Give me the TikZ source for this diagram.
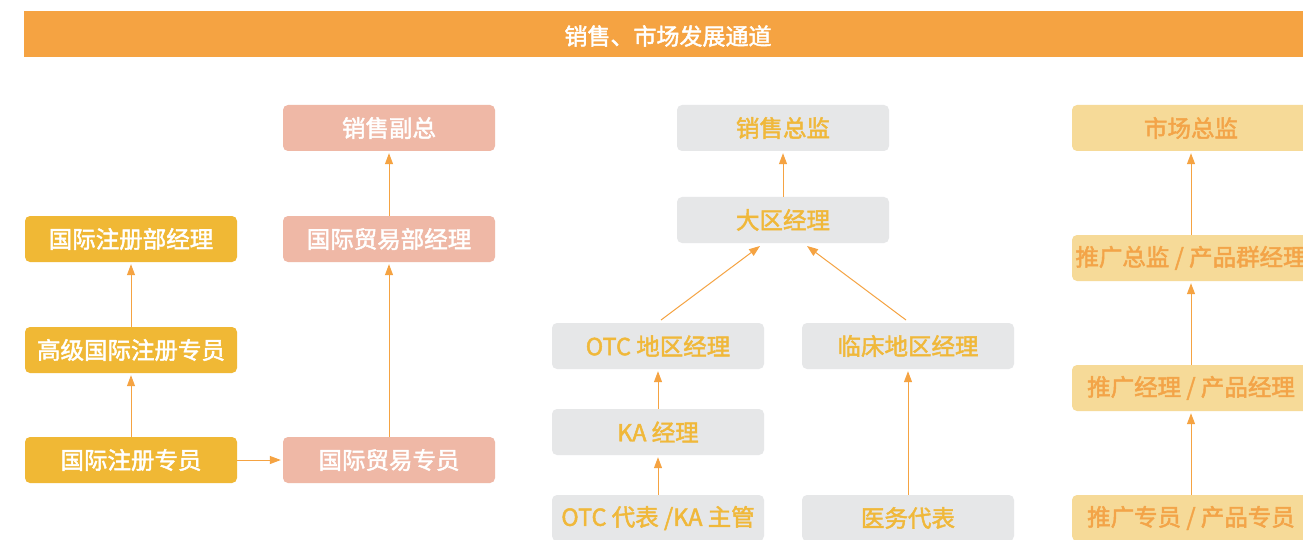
\documentclass[tikz,border=0pt]{standalone}
\usepackage{fontspec}
\setmainfont{Noto Sans CJK SC}
\newfontfamily\cjkm{Noto Sans CJK SC}[FakeBold=2]
\usetikzlibrary{arrows.meta}
\definecolor{hdr}{HTML}{F5A342}
\definecolor{cyel}{HTML}{F0B835}
\definecolor{cpink}{HTML}{EFB8A6}
\definecolor{cgrey}{HTML}{E6E7E8}
\definecolor{cgtxt}{HTML}{F0B83A}
\definecolor{clt}{HTML}{F6DA98}
\definecolor{clttxt}{HTML}{F3A448}
\definecolor{carr}{HTML}{F5A342}
\tikzset{
  box/.style={rounded corners=5pt, minimum height=46pt, inner sep=0pt, font=\cjkm\fontsize{23.5}{23.5}\selectfont},
  boxw/.style={box, minimum width=212pt},
  yel/.style={boxw, fill=cyel, text=white},
  pink/.style={boxw, fill=cpink, text=white},
  grey/.style={boxw, fill=cgrey, text=cgtxt},
  lt/.style={box, minimum width=238pt, fill=clt, text=clttxt},
  arr/.style={draw=carr, line width=1pt, -{Triangle[length=11pt,width=8pt]}, shorten >=2pt},
}
\begin{document}
\begin{tikzpicture}[x=1pt,y=-1pt]
\useasboundingbox (0,0) rectangle (1303,540);
\clip (0,0) rectangle (1303,540);
\fill[white] (0,0) rectangle (1303,540);
% header
\node[fill=hdr, minimum width=1279pt, minimum height=46pt, inner sep=0pt, anchor=north west] (hdrbar) at (24,11) {};
\node[text=white, font=\cjkm\fontsize{23}{23}\selectfont] (title) at (668,36) {销售、市场发展通道};
% column 1
\node[yel] (c1a) at (131,239) {国际注册部经理};
\node[yel] (c1b) at (131,350) {高级国际注册专员};
\node[yel] (c1c) at (131,460) {国际注册专员};
% column 2
\node[pink] (c2a) at (389,128) {销售副总};
\node[pink] (c2b) at (389,239) {国际贸易部经理};
\node[pink] (c2c) at (389,460) {国际贸易专员};
% column 3
\node[grey] (s1) at (783,128) {销售总监};
\node[grey] (s2) at (783,220) {大区经理};
\node[grey] (s3) at (658,346) {OTC 地区经理};
\node[grey] (s4) at (908,346) {临床地区经理};
\node[grey] (s5) at (658,432) {KA 经理};
\node[grey] (s6) at (658,518) {OTC 代表 /KA 主管};
\node[grey] (s7) at (908,518) {医务代表};
% column 4
\node[lt] (m1) at (1191,128) {市场总监};
\node[lt] (m2) at (1191,258) {推广总监 / 产品群经理};
\node[lt] (m3) at (1191,388) {推广经理 / 产品经理};
\node[lt] (m4) at (1191,518) {推广专员 / 产品专员};
% arrows
\draw[arr] (c1c.north) -- (c1b.south);
\draw[arr] (c1b.north) -- (c1a.south);
\draw[arr] (c1c.east) -- (c2c.west);
\draw[arr] (c2c.north) -- (c2b.south);
\draw[arr] (c2b.north) -- (c2a.south);
\draw[arr] (s2.north) -- (s1.south);
\coordinate (s2l) at (760,246);
\coordinate (s2r) at (807,246);
\coordinate (s3t) at (661,320);
\coordinate (s4t) at (906,320);
\draw[arr, shorten >=0pt] (s3t) -- (s2l);
\draw[arr, shorten >=0pt] (s4t) -- (s2r);
\draw[arr] (s5.north) -- (s3.south);
\draw[arr] (s6.north) -- (s5.south);
\draw[arr] (s7.north) -- (s4.south);
\draw[arr] (m2.north) -- (m1.south);
\draw[arr] (m3.north) -- (m2.south);
\draw[arr] (m4.north) -- (m3.south);
\end{tikzpicture}
\end{document}
